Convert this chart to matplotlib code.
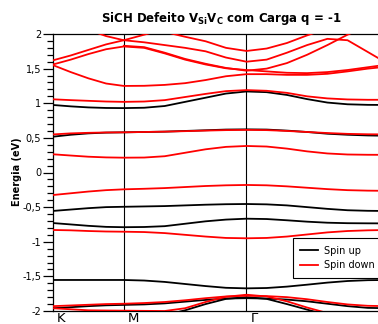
import numpy as np
import matplotlib.pyplot as plt
import matplotlib.transforms as mtransforms
from matplotlib.lines import Line2D
from matplotlib.ticker import MultipleLocator, FuncFormatter

nan = np.nan

# k-path coordinate along K -> M -> Gamma -> K
kpath = [0.0, 0.167, 0.333, 0.5, 0.667, 0.859, 1.052, 1.244, 1.437, 1.629,
         1.822, 2.012, 2.203, 2.393, 2.584, 2.774, 2.965, 3.155]
k_ticks = [0.0, 0.667, 1.822]
k_labels = ["K", "M", "Γ"]

# spin up bands (eV)
up_a = [0.975, 0.955, 0.94, 0.932, 0.93, 0.935, 0.96, 1.02, 1.08, 1.14,
        1.17, 1.16, 1.12, 1.06, 1.01, 0.985, 0.977, 0.975]
up_b = [0.517, 0.545, 0.565, 0.576, 0.58, 0.585, 0.59, 0.60, 0.61, 0.62,
        0.623, 0.62, 0.605, 0.585, 0.56, 0.545, 0.535, 0.53]
up_c = [-0.555, -0.535, -0.515, -0.50, -0.495, -0.49, -0.485, -0.475, -0.465, -0.458,
        -0.455, -0.46, -0.475, -0.50, -0.525, -0.545, -0.553, -0.556]
up_d = [-0.73, -0.75, -0.77, -0.785, -0.79, -0.787, -0.775, -0.74, -0.705, -0.68,
        -0.667, -0.672, -0.69, -0.71, -0.725, -0.732, -0.734, -0.735]
up_e = [-1.552, -1.552, -1.552, -1.552, -1.552, -1.56, -1.58, -1.61, -1.64, -1.665,
        -1.673, -1.668, -1.648, -1.62, -1.59, -1.567, -1.555, -1.552]
up_f = [-1.96, -1.945, -1.93, -1.918, -1.912, -1.905, -1.89, -1.865, -1.84, -1.82,
        -1.815, -1.82, -1.835, -1.86, -1.895, -1.93, -1.955, -1.96]
up_g = [nan, nan, nan, nan, nan, nan, -2.06, -1.99, -1.90, -1.825,
        -1.80, -1.825, -1.90, -1.98, -2.06, nan, nan, nan]

# spin down bands (eV)
dn_a = [1.62, 1.69, 1.77, 1.85, 1.91, 1.99, 2.07, nan, nan, nan,
        nan, nan, nan, nan, nan, nan, nan, nan]
dn_b = [nan, nan, 2.06, 1.97, 1.91, 1.88, 1.84, 1.80, 1.75, 1.66,
        1.60, 1.63, 1.73, 1.84, 1.93, 1.91, 1.74, 1.57]
dn_c = [nan, nan, nan, nan, nan, 2.12, 2.03, 1.96, 1.895, 1.80,
        1.755, 1.79, 1.87, 1.98, 2.08, nan, nan, nan]
dn_d = [1.56, 1.63, 1.71, 1.78, 1.82, 1.80, 1.72, 1.63, 1.56, 1.505,
        1.48, 1.46, 1.44, 1.435, 1.45, 1.48, 1.52, 1.56]
dn_e = [nan, nan, nan, nan, 1.83, 1.81, 1.73, 1.64, 1.57, 1.51,
        1.47, 1.50, 1.58, 1.70, 1.84, 1.99, 2.12, nan]
dn_f = [1.55, 1.45, 1.36, 1.285, 1.25, 1.252, 1.265, 1.29, 1.335, 1.39,
        1.42, 1.42, 1.41, 1.41, 1.425, 1.46, 1.50, 1.53]
dn_g = [1.057, 1.045, 1.035, 1.025, 1.02, 1.025, 1.045, 1.09, 1.135, 1.175,
        1.19, 1.18, 1.15, 1.10, 1.07, 1.055, 1.05, 1.05]
dn_h = [0.55, 0.565, 0.573, 0.578, 0.58, 0.585, 0.59, 0.597, 0.605, 0.612,
        0.615, 0.612, 0.60, 0.585, 0.57, 0.558, 0.552, 0.55]
dn_i = [0.263, 0.245, 0.228, 0.218, 0.214, 0.216, 0.235, 0.285, 0.335, 0.37,
        0.383, 0.375, 0.345, 0.305, 0.275, 0.26, 0.256, 0.255]
dn_j = [-0.325, -0.30, -0.275, -0.255, -0.243, -0.235, -0.225, -0.21, -0.195, -0.185,
        -0.18, -0.185, -0.20, -0.22, -0.24, -0.255, -0.262, -0.265]
dn_k = [-0.83, -0.835, -0.845, -0.852, -0.855, -0.86, -0.875, -0.90, -0.925, -0.945,
        -0.95, -0.945, -0.925, -0.895, -0.865, -0.845, -0.835, -0.83]
dn_l = [-1.93, -1.92, -1.91, -1.90, -1.895, -1.885, -1.87, -1.845, -1.815, -1.79,
        -1.78, -1.785, -1.80, -1.83, -1.87, -1.905, -1.925, -1.93]
dn_m = [-1.96, -1.975, -1.99, -1.993, -1.995, -1.998, -2.0, -1.96, -1.87, -1.795,
        -1.765, -1.79, -1.86, -1.95, -2.03, nan, nan, nan]

spin_up = [up_a, up_b, up_c, up_d, up_e, up_f, up_g]
spin_down = [dn_a, dn_b, dn_c, dn_d, dn_e, dn_f, dn_g, dn_h, dn_i, dn_j, dn_k, dn_l, dn_m]

W, H = 378, 324
fig = plt.figure(figsize=(W / 100, H / 100), dpi=100)
fig.patch.set_facecolor("white")

# axes run past the right edge of the canvas (last K point is cut off)
ax = fig.add_axes([53 / W, 1 - 311 / H, (388 - 53) / W, 277 / H])

for band in spin_up:
    ax.plot(kpath, band, color="black", lw=1.3, zorder=2)
for band in spin_down:
    ax.plot(kpath, band, color="red", lw=1.3, zorder=3)

for k in k_ticks[1:]:
    ax.axvline(k, color="black", lw=0.8, zorder=1)

ax.set_xlim(0, 3.155)
ax.set_ylim(-2, 2)

ax.yaxis.set_major_locator(MultipleLocator(0.5))
ax.yaxis.set_minor_locator(MultipleLocator(0.1))
ax.yaxis.set_major_formatter(FuncFormatter(lambda v, p: f"{v:g}".replace(".", ",")))
ax.tick_params(axis="y", which="major", length=7, width=0.9, pad=1.5, labelsize=7)
ax.tick_params(axis="y", which="minor", length=4, width=0.9)

ax.set_xticks(k_ticks)
ax.set_xticklabels(k_labels, fontsize=9.5)
ax.tick_params(axis="x", length=0, pad=1)
offset = mtransforms.ScaledTranslation(4 / 100, 0, fig.dpi_scale_trans)
for lab in ax.get_xticklabels():
    lab.set_horizontalalignment("left")
    lab.set_transform(lab.get_transform() + offset)

for side in ["left", "bottom", "top", "right"]:
    ax.spines[side].set_linewidth(0.9)

fig.text(17 / W, 1 - 172 / H, "Energia (eV)", rotation=90, ha="center", va="center",
         fontsize=7, fontweight="bold")
fig.text(221 / W, 1 - 18.5 / H, r"SiCH Defeito V$_{\mathbf{Si}}$V$_{\mathbf{C}}$ com Carga q = -1",
         ha="center", va="center", fontsize=8.5, fontweight="bold")

handles = [Line2D([], [], color="black", lw=1.3), Line2D([], [], color="red", lw=1.3)]
leg = fig.legend(handles, ["Spin up", "Spin down"], loc="upper left",
                 bbox_to_anchor=(292.5 / W, 1 - 238 / H), bbox_transform=fig.transFigure,
                 fontsize=7, frameon=True, fancybox=False, framealpha=1,
                 edgecolor="black", borderaxespad=0, borderpad=0.8,
                 handlelength=1.85, handletextpad=0.55, labelspacing=0.45)
leg.get_frame().set_linewidth(0.8)

fig.savefig("out.png", dpi=100)
